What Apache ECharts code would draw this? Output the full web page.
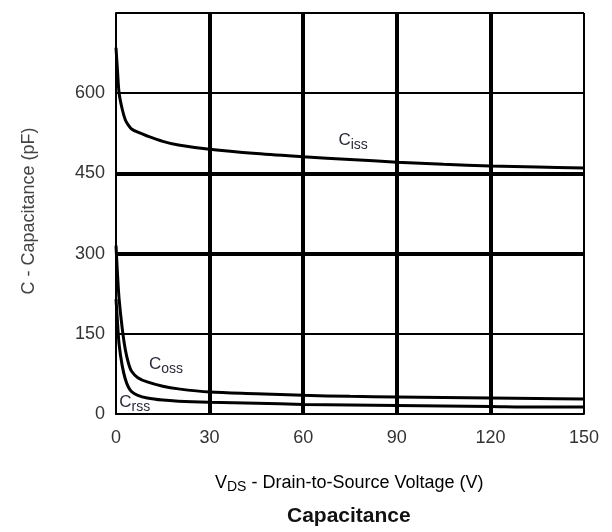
<!DOCTYPE html>
<html>
<head>
<meta charset="utf-8">
<script src="https://cdn.jsdelivr.net/npm/echarts@6/dist/echarts.min.js"></script>
<style>
  html, body { margin: 0; padding: 0; background: #fff; }
  #chart { width: 612px; height: 532px; }
</style>
</head>
<body>
<div id="chart"></div>
<script>
// Drain-to-source voltage (V)
var vds = [0, 0.5, 1, 2, 3, 4, 5, 7, 10, 15, 20, 30, 45, 60, 75, 90, 105, 120, 135, 150];
// Capacitances (pF)
var ciss = [685, 640, 600, 570, 550, 540, 533, 527, 520, 510, 503, 495, 487, 481, 476, 471, 467, 464, 462, 460];
var coss = [315, 260, 215, 160, 120, 95, 80, 68, 60, 52, 47, 41, 38, 35, 33, 32, 31, 30, 29, 28];
var crss = [215, 170, 130, 90, 65, 50, 42, 35, 30, 26, 24, 22, 20, 18, 17, 16, 15, 14, 13, 13];

var xTicks = [0, 30, 60, 90, 120, 150];
var yTicks = [0, 150, 300, 450, 600];
// Heavier grid lines
var heavyX = [30, 60, 90, 120];
var heavyY = [300, 450];

// Curve name labels: [main, subscript, V, C]
var curveLabels = [
  ['C', 'iss', 76, 512],
  ['C', 'oss', 16, 92],
  ['C', 'rss', 6, 21]
];

function pairs(ys) {
  return vds.map(function (v, i) { return [v, ys[i]]; });
}

var font = '"Liberation Sans", Arial, sans-serif';
var curveStyle = { color: '#000', width: 3 };

var labelRich = {
  m: { fontFamily: font, fontSize: 17, color: '#2a2a3a' },
  s: { fontFamily: font, fontSize: 14, color: '#2a2a3a', padding: [9, 0, 0, 0] }
};

function nameMark(idx) {
  var c = curveLabels[idx];
  return {
    symbol: 'circle', symbolSize: 1,
    itemStyle: { color: 'rgba(0,0,0,0)' },
    label: {
      show: true, position: 'inside',
      formatter: '{m|' + c[0] + '}{s|' + c[1] + '}',
      rich: labelRich
    },
    data: [{ coord: [c[2], c[3]] }]
  };
}

var chart = echarts.init(document.getElementById('chart'), null, { renderer: 'canvas' });

chart.setOption({
  animation: false,
  backgroundColor: '#fff',
  grid: { left: 116, right: 28, top: 13, bottom: 118 },
  xAxis: {
    type: 'value', min: 0, max: 150, interval: 30,
    axisLine: { show: true, lineStyle: { color: '#000', width: 2 } },
    axisTick: { show: false },
    axisLabel: {
      margin: 15, fontFamily: font, fontSize: 18, color: '#333',
      formatter: function (v) { return xTicks.indexOf(v) >= 0 ? String(v) : ''; }
    },
    splitLine: { show: true, lineStyle: { color: '#000', width: 2 } }
  },
  yAxis: {
    type: 'value', min: 0, max: 750, interval: 150,
    axisLine: { show: true, lineStyle: { color: '#000', width: 2 } },
    axisTick: { show: false },
    axisLabel: {
      margin: 11, fontFamily: font, fontSize: 18, color: '#333',
      formatter: function (v) { return yTicks.indexOf(v) >= 0 ? String(v) : ''; }
    },
    splitLine: { show: true, lineStyle: { color: '#000', width: 2 } },
    name: 'C - Capacitance (pF)',
    nameLocation: 'middle',
    nameGap: 78,
    nameTextStyle: { fontFamily: font, fontSize: 18, color: '#444', padding: [0, 0, 0, 5] }
  },
  graphic: [
    {
      type: 'text', left: 215, top: 474,
      style: {
        text: '{m|V}{s|DS}{m| - Drain-to-Source Voltage (V)}',
        rich: {
          m: { fontFamily: font, fontSize: 18, color: '#333' },
          s: { fontFamily: font, fontSize: 14, color: '#333', padding: [9, 0, 0, 0] }
        }
      }
    },
    {
      type: 'text', left: 287, top: 506,
      style: {
        text: 'Capacitance',
        font: 'bold 21px ' + font,
        fill: '#111'
      }
    }
  ],
  series: [
    {
      type: 'line', data: pairs(ciss), showSymbol: false, smooth: 0.3,
      lineStyle: curveStyle, z: 5,
      markLine: {
        silent: true, symbol: 'none', label: { show: false },
        lineStyle: { color: '#000', width: 4, type: 'solid' },
        data: heavyX.map(function (x) { return { xAxis: x }; })
          .concat(heavyY.map(function (y) { return { yAxis: y }; }))
      },
      markPoint: nameMark(0)
    },
    {
      type: 'line', data: pairs(coss), showSymbol: false, smooth: 0.3,
      lineStyle: curveStyle, z: 5,
      markPoint: nameMark(1)
    },
    {
      type: 'line', data: pairs(crss), showSymbol: false, smooth: 0.3,
      lineStyle: curveStyle, z: 5,
      markPoint: nameMark(2)
    }
  ]
});
</script>
</body>
</html>
